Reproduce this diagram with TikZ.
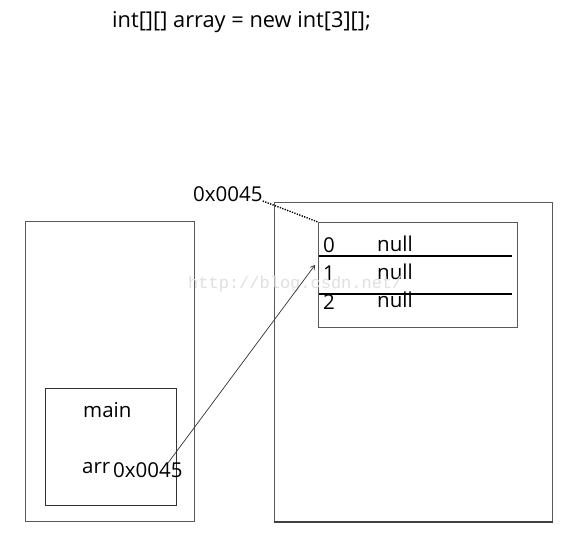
\documentclass[tikz,border=0pt]{standalone}
\usepackage{fontspec}
\setmainfont{Open Sans}
\newfontfamily\wmfont{Liberation Mono}
\usetikzlibrary{arrows.meta}
\begin{document}
\begin{tikzpicture}[x=1pt,y=-1pt,
  frame/.style={draw=black!65, line width=1.2pt, fill=none, inner sep=0pt, anchor=north west},
  lbl/.style={inner sep=0pt, anchor=base west, font=\fontsize{20.5}{22}\selectfont},
  rowline/.style={draw=black, line width=1.9pt},
  link/.style={draw=black!80, line width=0.7pt}]
\useasboundingbox[fill=white] (0,0) rectangle (565,544);
% title
\node[inner sep=0pt, anchor=base west, font=\fontsize{21.8}{24}\selectfont] (title) at (112,27) {int[][] array = new int[3][];};
% stack
\node[frame, minimum width=169pt, minimum height=300pt] (stack) at (25,221) {};
\node[frame, draw=black!80, minimum width=131pt, minimum height=117pt] (mainf) at (45,388) {};
\node[lbl] (main) at (83,417) {main};
\node[lbl] (arr) at (82,473) {arr};
\node[lbl, font=\fontsize{20.5}{22}\selectfont] (addr) at (113,477) {0x0045};
% heap
\node[frame, minimum width=278pt, minimum height=319pt] (heap) at (274,202) {};
\draw[draw=black!75, line width=2.2pt] (heap.south west) -- (heap.south east);
\node[frame, minimum width=199pt, minimum height=105pt] (arrbox) at (318,222) {};
\draw[rowline] (319,256) -- (512,256);
\draw[rowline] (319,294) -- (512,294);
\node[lbl] (i0) at (323,252) {0};
\node[lbl] (n0) at (377,251) {null};
\node[lbl] (i1) at (323,280) {1};
\node[lbl] (n1) at (377,279) {null};
\node[lbl] (i2) at (323,309) {2};
\node[lbl] (n2) at (377,307) {null};
% heap address label
\node[lbl] (haddr) at (193,201) {0x0045};
% watermark
\node[inner sep=0pt, anchor=base west, font=\wmfont\fontsize{17}{20}\selectfont, text=black!12] (wm) at (188,288) {http://blog.csdn.net/};
% connectors
\draw[link, draw=black, line width=1.4pt, dash pattern=on 1.3pt off 1.3pt] (haddr.base east) -- (arrbox.north west);
\coordinate (tail) at (168,463);
\coordinate (tip) at (315,265);
\draw[link, -{Straight Barb[length=4pt,width=5pt]}] (tail) -- (tip);
\end{tikzpicture}
\end{document}
